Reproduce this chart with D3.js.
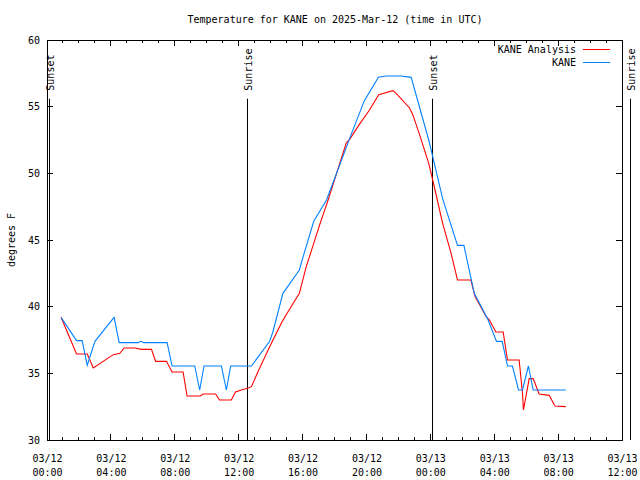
<!DOCTYPE html>
<html>
<head>
<meta charset="utf-8">
<script src="https://cdn.jsdelivr.net/npm/d3@7"></script>
<style>
    body { margin: 0; background: #fff; }
    text { font-family: "DejaVu Sans Mono", monospace; font-size: 10px; fill: #000; }
</style>
</head>
<body>
<div id="chart"></div>
<script>
/*global d3*/

//hours after 03/12 00:00 UTC and temperature in F
var analysisHours = [0.88, 1.85, 2.52, 2.9, 4.15, 4.56, 4.83, 5.5, 5.9, 6.54, 6.8, 7.48, 7.83, 8.52, 8.77, 9.6,
    9.77, 10.56, 10.8, 11.54, 11.8, 12.17, 12.6, 12.8, 13.2, 13.94, 14.67, 14.9, 15.8, 16.23, 16.7, 17.06,
    17.6, 18.73, 18.98, 19.46, 20.19, 20.77, 21.65, 21.86, 22.7, 22.9, 23.3, 23.9, 24.15, 24.77, 25.3, 25.7,
    26.54, 26.8, 27.5, 27.7, 28.1, 28.56, 28.83, 29.56, 29.77, 29.83, 30.19, 30.44, 30.81, 31.44, 31.8, 32.48];
var analysisTemps = [39.2, 36.45, 36.45, 35.4, 36.4, 36.5, 36.9, 36.9, 36.8, 36.8, 35.9, 35.9, 35.1, 35.1, 33.3, 33.3,
    33.45, 33.45, 33.0, 33.0, 33.6, 33.75, 33.9, 34.0, 35.1, 37.0, 38.75, 39.25, 41.0, 43.0, 44.75, 46.1,
    48.0, 52.25, 52.6, 53.5, 54.75, 55.9, 56.2, 56.0, 54.9, 54.4, 53.0, 50.75, 49.5, 46.25, 44.0, 42.0,
    42.0, 40.75, 39.25, 39.0, 38.1, 38.1, 36.0, 36.0, 33.5, 32.25, 34.6, 34.6, 33.45, 33.35, 32.55, 32.5];

var obsHours = [0.88, 1.85, 2.2, 2.52, 3.0, 4.2, 4.52, 5.7, 5.88, 6.06, 7.52, 7.83, 9.25, 9.56, 9.83, 10.92,
    11.23, 11.5, 12.8, 13.94, 14.14, 14.77, 15.8, 16.0, 16.7, 17.5, 19.04, 19.87, 20.75, 21.23, 22.17, 22.8,
    23.9, 24.15, 24.77, 25.7, 26.1, 26.75, 27.6, 28.14, 28.5, 28.83, 29.14, 29.52, 29.77, 30.14, 30.44, 32.48];
var obsTemps = [39.2, 37.45, 37.45, 35.6, 37.4, 39.2, 37.3, 37.3, 37.4, 37.3, 37.3, 35.55, 35.55, 33.75, 35.55, 35.55,
    33.75, 35.55, 35.55, 37.4, 38.1, 41.0, 42.75, 43.6, 46.4, 48.0, 52.9, 55.45, 57.2, 57.3, 57.3, 57.2,
    52.5, 51.25, 48.1, 44.6, 44.6, 41.0, 39.05, 37.4, 37.4, 35.55, 35.55, 33.75, 33.75, 35.55, 33.75, 33.75];

//sunrise / sunset marks, hours after 03/12 00:00 UTC
var sunEvents = [
    {name: "Sunset", hour: 0.12},
    {name: "Sunrise", hour: 12.5},
    {name: "Sunset", hour: 24.13},
    {name: "Sunrise", hour: 36.5}
];

var yTicks = [30, 35, 40, 45, 50, 55, 60];

var seriesNames = ["KANE Analysis", "KANE"];
var seriesColors = ["#ff0000", "#0080ff"];

//margins of the plot box
var margin = {top: 40, right: 18, bottom: 40, left: 47};

var w = 640 - margin.left - margin.right,
    h = 480 - margin.top - margin.bottom;

var start = Date.UTC(2025, 2, 12);

var toDate = function(hour) {
    return new Date(start + hour * 3600 * 1000);
};

//build point lists
var series = [
    {id: seriesNames[0], values: analysisHours.map(function(d, i) { return {date: toDate(d), temp: analysisTemps[i]}; })},
    {id: seriesNames[1], values: obsHours.map(function(d, i) { return {date: toDate(d), temp: obsTemps[i]}; })}
];

var svg = d3.select("#chart")
    .append("svg")
        .attr("width", 640)
        .attr("height", 480)
    .append("g")
        .attr("transform", "translate(" + margin.left + "," + margin.top + ")");

//scales
var x = d3.scaleUtc().domain([toDate(0), toDate(36)]).range([0, w]),
    y = d3.scaleLinear().domain([30, 60]).range([h, 0]);

var majorTicks = d3.utcHour.every(4).range(toDate(0), toDate(36.01)),
    minorTicks = d3.utcHour.every(1).range(toDate(0), toDate(36.01));

//title
svg.append("text")
    .attr("x", w / 2 + 0.5)
    .attr("y", -17)
    .attr("text-anchor", "middle")
    .text("Temperature for KANE on 2025-Mar-12 (time in UTC)");

//bottom axis: labels on two lines
var xAxis = svg.append("g")
    .attr("transform", "translate(0," + h + ")")
    .call(d3.axisBottom(x).tickValues(majorTicks).tickSize(0).tickPadding(0).tickFormat(""));
xAxis.select(".domain").remove();
xAxis.selectAll(".tick").each(function(d) {
    var t = d3.select(this);
    t.append("text").attr("y", 22).attr("text-anchor", "middle").text(d3.utcFormat("%m/%d")(d));
    t.append("text").attr("y", 36).attr("text-anchor", "middle").text(d3.utcFormat("%H:%M")(d));
});

//left axis labels
var yAxis = svg.append("g")
    .call(d3.axisLeft(y).tickValues(yTicks).tickSize(0).tickPadding(7).tickFormat(d3.format("d")));
yAxis.select(".domain").remove();
yAxis.selectAll("text").style("font-family", "'DejaVu Sans Mono', monospace").style("font-size", "10px");
xAxis.selectAll("text").style("font-family", "'DejaVu Sans Mono', monospace").style("font-size", "10px");

//inward tick marks on all four sides
var ticks = svg.append("g")
    .attr("stroke", "#000")
    .attr("shape-rendering", "crispEdges");

minorTicks.forEach(function(d) {
    var len = majorTicks.some(function(m) { return +m === +d; }) ? 6 : 3;
    ticks.append("line").attr("x1", x(d)).attr("x2", x(d)).attr("y1", h).attr("y2", h - len);
    ticks.append("line").attr("x1", x(d)).attr("x2", x(d)).attr("y1", 0).attr("y2", len);
});
yTicks.forEach(function(d) {
    ticks.append("line").attr("x1", 0).attr("x2", 6).attr("y1", y(d)).attr("y2", y(d));
    ticks.append("line").attr("x1", w).attr("x2", w - 6).attr("y1", y(d)).attr("y2", y(d));
});

//plot frame
svg.append("rect")
    .attr("width", w)
    .attr("height", h)
    .attr("fill", "none")
    .attr("stroke", "#000")
    .attr("shape-rendering", "crispEdges");

//y axis title
svg.append("text")
    .attr("transform", "translate(-32," + (h / 2) + ") rotate(-90)")
    .attr("text-anchor", "middle")
    .text("degrees F");

//sunrise and sunset lines with their labels
var sun = svg.selectAll(".sun")
    .data(sunEvents)
    .enter().append("g")
        .attr("class", "sun");

sun.append("line")
    .attr("x1", function(d) { return Math.round(x(toDate(d.hour))) + 0.5; })
    .attr("x2", function(d) { return Math.round(x(toDate(d.hour))) + 0.5; })
    .attr("y1", y(55.6))
    .attr("y2", h)
    .attr("stroke", "#000");

sun.append("text")
    .attr("transform", function(d) { return "translate(" + (Math.round(x(toDate(d.hour))) + 5) + "," + y(56.2) + ") rotate(-90)"; })
    .text(function(d) { return d.name; });

//lines
var line = d3.line()
    .x(function(d) { return x(d.date); })
    .y(function(d) { return y(d.temp); });

svg.selectAll(".series")
    .data(series)
    .enter().append("path")
        .attr("class", "series")
        .attr("d", function(d) { return line(d.values); })
        .attr("fill", "none")
        .attr("stroke", function(d, i) { return seriesColors[i]; })
        .attr("stroke-width", 1.1);

//legend
var legend = svg.selectAll(".legend")
    .data(seriesNames)
    .enter().append("g")
        .attr("class", "legend")
        .attr("transform", function(d, i) { return "translate(0," + (9 + i * 13) + ")"; });

legend.append("text")
    .attr("x", w - 46)
    .attr("y", 4)
    .attr("text-anchor", "end")
    .text(function(d) { return d; });

legend.append("line")
    .attr("x1", w - 39)
    .attr("x2", w - 12)
    .attr("y1", 0.5)
    .attr("y2", 0.5)
    .attr("stroke", function(d, i) { return seriesColors[i]; });
</script>
</body>
</html>
